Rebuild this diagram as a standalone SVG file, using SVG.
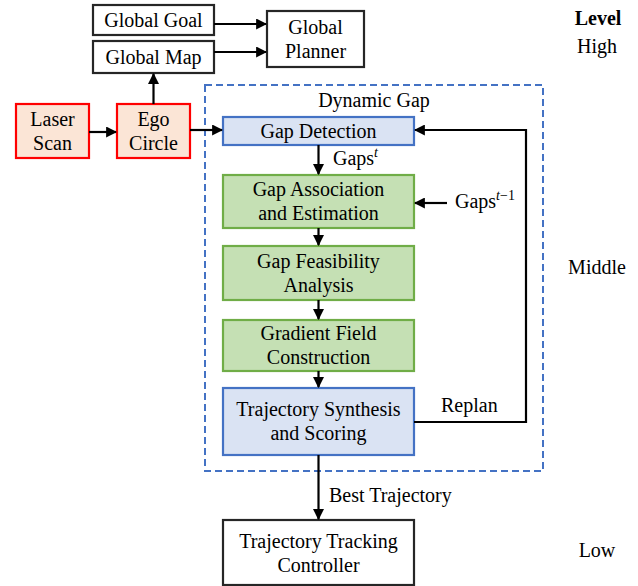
<svg xmlns="http://www.w3.org/2000/svg" width="638" height="586" viewBox="0 0 638 586">
<defs>
<marker id="ah" viewBox="0 0 10 10" refX="9" refY="5" markerWidth="5" markerHeight="5" orient="auto" markerUnits="strokeWidth">
<path d="M0,0 L10,5 L0,10 z" fill="#000"/>
</marker>
<style>
text{font-family:"Liberation Serif","DejaVu Serif",serif;font-size:20px;fill:#000}
.c{text-anchor:middle}
.plain{fill:#fff;stroke:#262626;stroke-width:2.2}
.red{fill:#FBE5D6;stroke:#FF0000;stroke-width:2.2}
.blue{fill:#DAE3F3;stroke:#4472C4;stroke-width:2.2}
.green{fill:#C5E0B4;stroke:#70AD47;stroke-width:2.2}
.ar{fill:none;stroke:#000;stroke-width:2.2;marker-end:url(#ah)}
</style>
</defs>
<rect width="638" height="586" fill="#fff"/>
<g id="dynamic-gap">
<rect x="205" y="85" width="338" height="386" fill="none" stroke="#4472C4" stroke-width="2" stroke-dasharray="7,4"/>
<text class="c" x="374" y="107">Dynamic Gap</text>
</g>
<g id="global-goal"><rect class="plain" x="93" y="5" width="121" height="30"/><text class="c" x="153.5" y="27">Global Goal</text></g>
<g id="global-map"><rect class="plain" x="93" y="41" width="121" height="32"/><text class="c" x="153.5" y="64">Global Map</text></g>
<g id="global-planner"><rect class="plain" x="267" y="11" width="97" height="56"/><text class="c" x="315.5" y="34">Global</text><text class="c" x="315.5" y="58">Planner</text></g>
<g id="laser-scan"><rect class="red" x="16" y="104" width="73" height="54"/><text class="c" x="52.5" y="126">Laser</text><text class="c" x="52.5" y="150">Scan</text></g>
<g id="ego-circle"><rect class="red" x="117" y="104" width="73" height="54"/><text class="c" x="153.5" y="126">Ego</text><text class="c" x="153.5" y="150">Circle</text></g>
<g id="gap-detection"><rect class="blue" x="223" y="117" width="191" height="28"/><text class="c" x="318.5" y="138">Gap Detection</text></g>
<g id="gap-association"><rect class="green" x="223" y="175" width="191" height="53"/><text class="c" x="318.5" y="196">Gap Association</text><text class="c" x="318.5" y="220">and Estimation</text></g>
<g id="gap-feasibility"><rect class="green" x="223" y="246" width="191" height="54"/><text class="c" x="318.5" y="268">Gap Feasibility</text><text class="c" x="318.5" y="292">Analysis</text></g>
<g id="gradient-field"><rect class="green" x="223" y="320" width="191" height="51"/><text class="c" x="318.5" y="340">Gradient Field</text><text class="c" x="318.5" y="364">Construction</text></g>
<g id="trajectory-synthesis"><rect class="blue" x="223" y="388" width="191" height="67"/><text class="c" x="318.5" y="416">Trajectory Synthesis</text><text class="c" x="318.5" y="440">and Scoring</text></g>
<g id="trajectory-tracking"><rect class="plain" x="223" y="520" width="191" height="65"/><text class="c" x="318.5" y="548">Trajectory Tracking</text><text class="c" x="318.5" y="572">Controller</text></g>
<g id="connectors">
<line class="ar" x1="214" y1="24" x2="266" y2="24"/>
<line class="ar" x1="214" y1="52" x2="266" y2="52"/>
<line class="ar" x1="153.5" y1="104" x2="153.5" y2="74"/>
<line class="ar" x1="89" y1="132" x2="116" y2="132"/>
<line class="ar" x1="190" y1="130" x2="222" y2="130"/>
<line class="ar" x1="318.5" y1="145" x2="318.5" y2="174"/>
<line class="ar" x1="447" y1="203" x2="415" y2="203"/>
<line class="ar" x1="318.5" y1="228" x2="318.5" y2="245"/>
<line class="ar" x1="318.5" y1="300" x2="318.5" y2="319"/>
<line class="ar" x1="318.5" y1="371" x2="318.5" y2="387"/>
<polyline class="ar" points="414,422 526,422 526,130 415,130"/>
<line class="ar" x1="318.5" y1="455" x2="318.5" y2="519"/>
<text x="333" y="165">Gaps<tspan font-style="italic" font-size="14" dy="-8">t</tspan></text>
<text x="455" y="208">Gaps<tspan font-style="italic" font-size="14" dy="-8">t</tspan><tspan font-size="14">−1</tspan></text>
<text x="441" y="412">Replan</text>
<text x="329" y="502">Best Trajectory</text>
</g>
<g id="levels">
<text class="c" x="598" y="25" font-weight="bold">Level</text>
<text class="c" x="597" y="53">High</text>
<text class="c" x="597" y="274">Middle</text>
<text class="c" x="597" y="557">Low</text>
</g>
</svg>
